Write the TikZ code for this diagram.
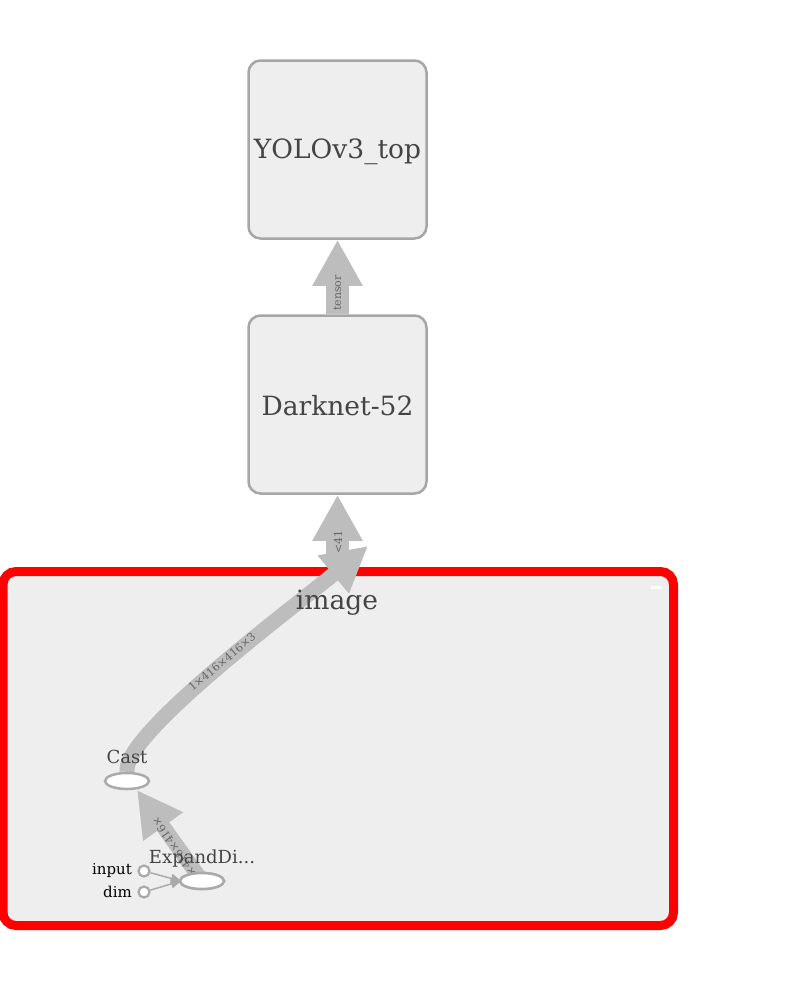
\documentclass[tikz,border=0pt]{standalone}
\usepackage{fontspec}
\setmainfont{DejaVu Serif}
\usetikzlibrary{arrows.meta,shapes.geometric}
\definecolor{boxfill}{HTML}{EEEEEE}
\definecolor{boxline}{HTML}{A6A6A6}
\definecolor{edgegray}{HTML}{BDBDBD}
\definecolor{txt}{HTML}{444444}
\definecolor{lbl}{HTML}{666666}
\definecolor{ellline}{HTML}{AAAAAA}
\definecolor{grpred}{HTML}{FF0000}
\pgfdeclarelayer{grp}
\pgfdeclarelayer{edges}
\pgfsetlayers{grp,edges,main}
\begin{document}
\begin{tikzpicture}[x=1pt,y=-1pt,
  metabox/.style={draw=boxline, fill=boxfill, line width=2.5pt, rounded corners=12pt,
    minimum width=178pt, minimum height=178pt, inner sep=0pt},
  bigtext/.style={text=txt, font=\fontsize{26.5}{30}\selectfont, inner sep=0pt},
  opnode/.style={ellipse, draw=ellline, fill=white, line width=2.5pt,
    minimum width=44pt, minimum height=16pt, inner sep=0pt},
  oplabel/.style={text=txt, font=\fontsize{18}{20}\selectfont, inner sep=0pt},
  edgelbl/.style={text=lbl, font=\fontsize{11}{12}\selectfont, inner sep=0pt},
  bigedge/.style={draw=edgegray, line width=23pt, -{Triangle[width=47pt,length=46pt]}},
  thinedge/.style={draw=edgegray, line width=15pt, -{Triangle[width=46pt,length=45pt]}},
  inport/.style={circle, draw=ellline, fill=white, line width=2.2pt, minimum size=11pt, inner sep=0pt},
  portlbl/.style={text=black, font=\fontsize{15}{17}\selectfont, inner sep=0pt, anchor=east},
  smalledge/.style={draw=ellline, line width=1.5pt, -{Triangle[width=9pt,length=10pt]}}
]
\useasboundingbox (0,0) rectangle (795,988);

% group box
\begin{pgfonlayer}{grp}
\node[draw=grpred, line width=9pt, fill=boxfill, rounded corners=13pt,
  minimum width=670.5pt, minimum height=354pt, inner sep=0pt] (grp) at (338.25,748.5) {};
\end{pgfonlayer}
\node[bigtext] (grplbl) at (337,603) {image};
\draw[white, line width=3pt] (651,587) -- (662,587);

% meta nodes
\node[metabox] (yolo) at (337.5,149.5) {};
\node[bigtext] (yololbl) at (337.5,152) {YOLOv3\_top};
\node[metabox] (dark) at (337.5,404.5) {};
\node[bigtext] (darklbl) at (337.5,406) {Darknet-52};

% op nodes
\node[opnode] (cast) at (127,781) {};
\node[oplabel] (castlbl) at (127,757) {Cast};
\node[opnode] (ed) at (202,881) {};

% input ports
\node[inport] (pin) at (144,871) {};
\node[inport] (pdim) at (144,892) {};
\node[portlbl] (pinlbl) at (132,871) {input};
\node[portlbl] (pdimlbl) at (132,892) {dim};

% coordinates
\coordinate (grptop) at (337.5,562);
\coordinate (innertip) at (368,546);
\coordinate (casttip) at (137,790);
\coordinate (edin) at (181,881);

\begin{pgfonlayer}{edges}
\draw[bigedge] (dark.north) -- (yolo.south);
\draw[bigedge] (grptop) -- (dark.south);
\draw[thinedge] (cast.north) .. controls (122,735) and (290,610) .. (innertip);
\draw[thinedge] (ed.center) -- (casttip);
\end{pgfonlayer}

\node[edgelbl, rotate=90] (lt) at (337.5,293) {tensor};
\node[edgelbl, rotate=90] (l41) at (338,542) {<41};
\node[edgelbl, rotate=40] (lcurve) at (222,662) {1×416×416×3};
\node[edgelbl, rotate=124] (led) at (174,847) {×416×416×};
\node[oplabel] (edlbl) at (202,859) {ExpandDi...};
\node[opnode] (edtop) at (202,881) {};

\draw[smalledge] (pin) -- (edin);
\draw[smalledge] (pdim) -- (edin);
\end{tikzpicture}
\end{document}
